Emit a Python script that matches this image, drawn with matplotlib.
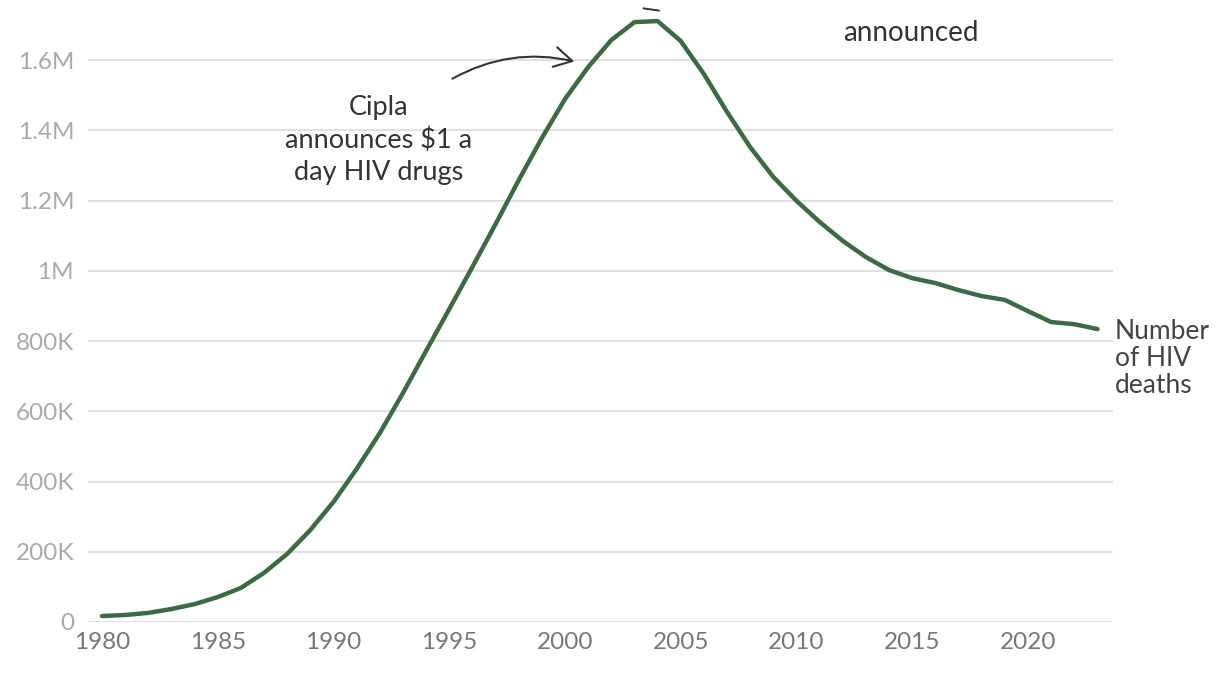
import numpy as np
import matplotlib.pyplot as plt
from matplotlib.patches import FancyArrowPatch
from matplotlib.ticker import FuncFormatter

plt.rcParams['font.family'] = ['Lato', 'DejaVu Sans']

# Muertes por VIH en el mundo, 1980-2023 (estimadas de la imagen)
years = list(range(1980, 2024))
deaths = [17e3, 20e3, 26e3, 37e3, 51e3, 71e3, 97e3, 140e3, 194e3, 262e3,
          342e3, 436e3, 538e3, 652e3, 772e3, 891e3, 1011e3, 1133e3, 1258e3, 1378e3,
          1489e3, 1580e3, 1657e3, 1708e3, 1711e3, 1654e3, 1560e3, 1452e3, 1352e3, 1267e3,
          1199e3, 1139e3, 1085e3, 1039e3, 1002e3, 979e3, 965e3, 945e3, 928e3, 917e3,
          885e3, 854e3, 848e3, 834e3]
y_ticks = [0, 200e3, 400e3, 600e3, 800e3, 1000e3, 1200e3, 1400e3, 1600e3]
x_ticks = [1980, 1985, 1990, 1995, 2000, 2005, 2010, 2015, 2020]

green = '#3b6a45'

fig = plt.figure(figsize=(12.2, 6.76), dpi=100)
ax = fig.add_axes([88 / 1220, 54 / 676, (1113 - 88) / 1220, 622 / 676])

ax.plot(years, deaths, color=green, lw=3.2, solid_capstyle='round', zorder=3, clip_on=False)

ax.set_xlim(1979.395, 2023.67)
ax.set_ylim(0, 1.771e6)
ax.set_yticks(y_ticks)
ax.set_xticks(x_ticks)


def fmt(v, pos):
    if v == 0:
        return '0'
    if v >= 1e6:
        s = f'{v / 1e6:.1f}'.rstrip('0').rstrip('.')
        return s + 'M'
    return f'{int(v / 1e3)}K'


ax.yaxis.set_major_formatter(FuncFormatter(fmt))
ax.grid(axis='y', color='#dddddd', lw=1.3)
ax.set_axisbelow(True)
for s in ax.spines.values():
    s.set_visible(False)
ax.tick_params(axis='both', length=0)
ax.tick_params(axis='y', labelsize=17.5, labelcolor='#aaaaaa', pad=10)
ax.tick_params(axis='x', labelsize=17.5, labelcolor='#777777', pad=7)

# anotaciones
ax.text(1991.94, 1.372e6, 'Cipla\nannounces \\$1 a\nday HIV drugs', ha='center', va='center',
        fontsize=19.5, color='#333333', linespacing=1.35)
arrow = FancyArrowPatch((1995.03, 1.543e6), (2000.52, 1.594e6),
                        connectionstyle='arc3,rad=-0.2', arrowstyle='->,head_length=8,head_width=4.5',
                        color='#333333', lw=1.5, mutation_scale=1.6)
ax.add_patch(arrow)
ax.text(2014.96, 1.677e6, 'announced', ha='center', va='center', fontsize=20, color='#333333')
ax.plot([2003.4, 2004.05], [1.747e6, 1.741e6], color='#333333', lw=1.4)
ax.text(2023.75, 750e3, 'Number\nof HIV\ndeaths', ha='left', va='center', fontsize=19,
        color='#444444', linespacing=1.08, clip_on=False)

fig.savefig('out.png', dpi=100)
